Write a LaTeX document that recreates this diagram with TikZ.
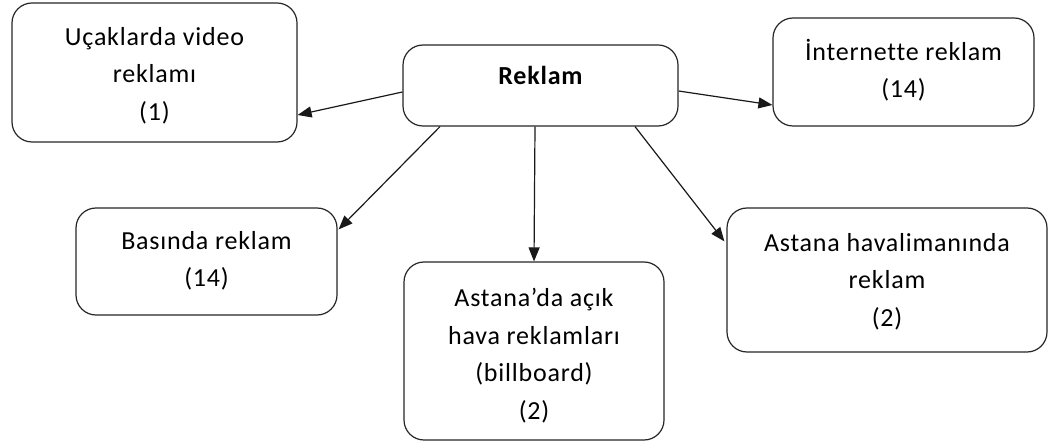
\documentclass[tikz,border=0pt]{standalone}
\usepackage{fontspec}
\setmainfont{Carlito}[Ligatures=CommonOff,LetterSpace=3]
\usetikzlibrary{arrows.meta}
\begin{document}
\begin{tikzpicture}[x=1pt,y=-1pt,
  box/.style={draw=black!85, line width=1.2pt, rounded corners=20pt, fill=white},
  txt/.style={align=center, font=\fontsize{26}{37.5}\selectfont, inner sep=0pt},
  arr/.style={-{Triangle[length=14pt,width=11pt]}, line width=1.2pt, black!90}]
\useasboundingbox (0,0) rectangle (1048,443);

% boxes
\node[box, minimum width=285pt, minimum height=139pt] (uc) at (154.5,72.5) {};
\node[box, minimum width=275pt, minimum height=81pt] (rek) at (540.5,85.5) {};
\node[box, minimum width=261pt, minimum height=108pt] (net) at (903.5,72) {};
\node[box, minimum width=261pt, minimum height=107pt] (bas) at (206.5,261.5) {};
\node[box, minimum width=260pt, minimum height=178pt] (acik) at (534,351) {};
\node[box, minimum width=320pt, minimum height=144pt] (hav) at (887,280) {};

% texts
\node[txt] (uct) at (154.5,75.5) {Uçaklarda video\\reklamı\\(1)};
\node[txt, font=\fontsize{26}{37.5}\selectfont\bfseries] (rekt) at (540.5,75) {Reklam};
\node[txt] (nett) at (903.5,70) {İnternette reklam\\(14)};
\node[txt] (bast) at (206.5,261) {Basında reklam\\(14)};
\node[txt] (acikt) at (534,355.5) {Astana’da açık\\hava reklamları\\(billboard)\\(2)};
\node[txt] (havt) at (887,281.5) {Astana havalimanında\\reklam\\(2)};

% connectors
\draw[arr] (rek.west |- 0,92) -- (uc.east |- 0,115);
\draw[arr] (rek.east |- 0,91) -- (net.west |- 0,105);
\draw[arr] ([xshift=-100.5pt]rek.south) -- ([xshift=1pt,yshift=-22pt]bas.north east);
\draw[arr] ([xshift=-5.5pt]rek.south) -- (acik.north);
\draw[arr] ([xshift=94.5pt]rek.south) -- ([xshift=-2pt,yshift=-34pt]hav.north west);
\end{tikzpicture}
\end{document}
